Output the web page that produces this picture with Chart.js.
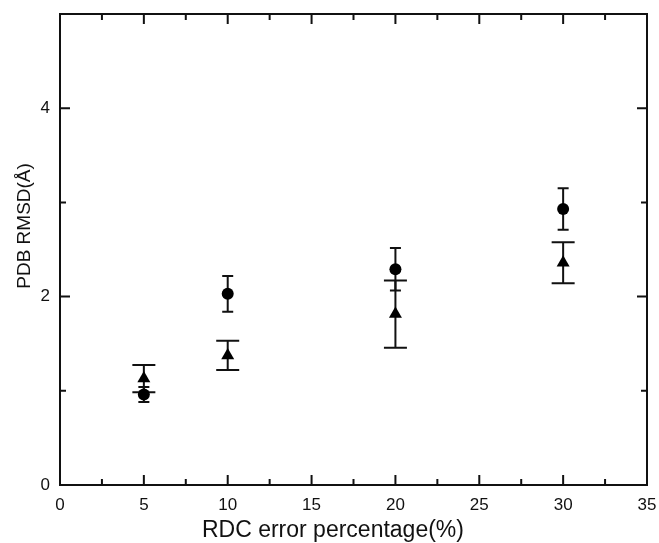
<!DOCTYPE html>
<html>
<head>
<meta charset="utf-8">
<script src="https://cdn.jsdelivr.net/npm/chart.js@4"></script>
<style>
  html, body { margin: 0; padding: 0; background: #fff; }
  #wrap { width: 659px; height: 543px; }
</style>
</head>
<body>
<div id="wrap"><canvas id="chart" width="659" height="543"></canvas></div>
<script>
// Data
const errorPct = [5, 10, 20, 30];
const circleMean = [0.96, 2.03, 2.29, 2.93];
const circleErr = [0.08, 0.19, 0.225, 0.22];
const triangleMean = [1.13, 1.375, 1.815, 2.36];
const triangleErr = [0.145, 0.155, 0.357, 0.218];

const xTitle = 'RDC error percentage(%)';
const yTitle = 'PDB RMSD(Å)';

const FONT = '"Liberation Sans", Arial, sans-serif';
const INK = '#111';

// error bars, drawn under the markers
const errorBars = {
  id: 'errorBars',
  beforeDatasetsDraw(chart) {
    const {ctx, scales: {x, y}} = chart;
    ctx.save();
    ctx.strokeStyle = INK;
    ctx.lineWidth = 2;
    chart.data.datasets.forEach(ds => {
      ds.means.forEach((m, i) => {
        const px = x.getPixelForValue(errorPct[i]);
        const top = y.getPixelForValue(m + ds.errs[i]);
        const bot = y.getPixelForValue(m - ds.errs[i]);
        const w = ds.capHalf;
        ctx.beginPath();
        ctx.moveTo(px, top); ctx.lineTo(px, bot);
        ctx.moveTo(px - w, top); ctx.lineTo(px + w, top);
        ctx.moveTo(px - w, bot); ctx.lineTo(px + w, bot);
        ctx.stroke();
      });
    });
    ctx.restore();
  }
};

// frame with inward ticks on all four sides, plus the axis titles
// (the titles in the original sit off-centre, so they are placed by hand)
const frame = {
  id: 'frame',
  afterDraw(chart) {
    const {ctx, chartArea: a, scales: {x, y}} = chart;
    ctx.save();
    ctx.strokeStyle = INK;
    ctx.lineWidth = 2;
    ctx.strokeRect(a.left, a.top, a.right - a.left, a.bottom - a.top);
    ctx.beginPath();
    x.ticks.forEach(t => {
      const px = x.getPixelForValue(t.value);
      const len = t.value % 5 === 0 ? 10 : 6;
      ctx.moveTo(px, a.bottom); ctx.lineTo(px, a.bottom - len);
      ctx.moveTo(px, a.top); ctx.lineTo(px, a.top + len);
    });
    y.ticks.forEach(t => {
      const py = y.getPixelForValue(t.value);
      const len = t.value % 2 === 0 ? 10 : 6;
      ctx.moveTo(a.left, py); ctx.lineTo(a.left + len, py);
      ctx.moveTo(a.right, py); ctx.lineTo(a.right - len, py);
    });
    ctx.stroke();

    ctx.fillStyle = INK;
    ctx.textAlign = 'center';
    ctx.textBaseline = 'alphabetic';
    ctx.font = '23px ' + FONT;
    ctx.fillText(xTitle, a.left + (a.right - a.left) * 0.465, 537);
    ctx.font = '19px ' + FONT;
    ctx.translate(30, a.top + (a.bottom - a.top) * 0.45);
    ctx.rotate(-Math.PI / 2);
    ctx.fillText(yTitle, 0, 0);
    ctx.restore();
  }
};

const toPoints = means => means.map((m, i) => ({x: errorPct[i], y: m}));

new Chart(document.getElementById('chart'), {
  type: 'scatter',
  data: {
    datasets: [
      {
        label: 'circle', data: toPoints(circleMean), means: circleMean, errs: circleErr, capHalf: 5.5,
        pointStyle: 'circle', pointRadius: 6, pointHoverRadius: 6,
        backgroundColor: '#000', borderColor: '#000', borderWidth: 0
      },
      {
        label: 'triangle', data: toPoints(triangleMean), means: triangleMean, errs: triangleErr, capHalf: 11.5,
        pointStyle: 'triangle', pointRadius: 7.5, pointHoverRadius: 7.5,
        backgroundColor: '#000', borderColor: '#000', borderWidth: 0
      }
    ]
  },
  options: {
    responsive: false,
    animation: false,
    events: [],
    layout: { padding: { left: 0, right: 12, top: 14, bottom: 0 } },
    plugins: { legend: { display: false }, tooltip: { enabled: false } },
    scales: {
      x: {
        type: 'linear', min: 0, max: 35,
        afterFit: s => { s.height = 58; s.paddingLeft = 0; s.paddingRight = 0; },
        grid: { display: false },
        border: { display: false },
        ticks: {
          stepSize: 2.5, autoSkip: false, maxRotation: 0, padding: 2,
          color: INK, font: { family: FONT, size: 17 },
          callback: v => (v % 5 === 0 ? v : '')
        }
      },
      y: {
        type: 'linear', min: 0, max: 5,
        afterFit: s => { s.width = 60; s.paddingTop = 0; s.paddingBottom = 0; },
        grid: { display: false },
        border: { display: false },
        ticks: {
          stepSize: 1, autoSkip: false, padding: 2,
          color: INK, font: { family: FONT, size: 17 },
          callback: v => (v % 2 === 0 ? v : '')
        }
      }
    }
  },
  plugins: [errorBars, frame]
});
</script>
</body>
</html>
